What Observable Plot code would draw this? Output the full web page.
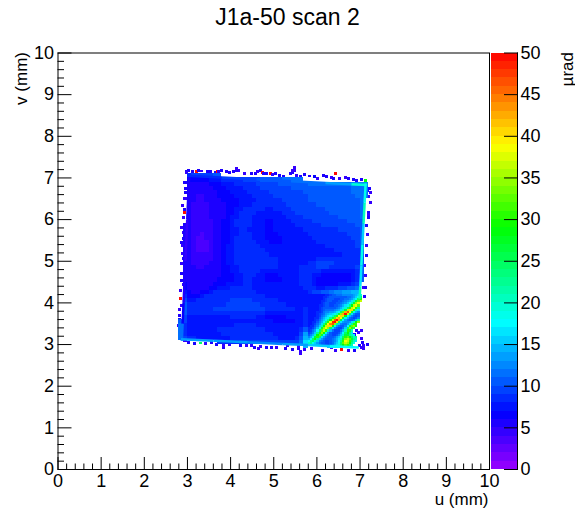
<!DOCTYPE html>
<html><head><meta charset="utf-8">
<script src="https://cdn.jsdelivr.net/npm/d3@7"></script>
<script src="https://cdn.jsdelivr.net/npm/@observablehq/plot@0.6"></script>
<style>
html,body{margin:0;padding:0;background:#fff}
#wrap{position:relative;width:575px;height:522px;overflow:hidden;font-family:"Liberation Sans",sans-serif}
#wrap svg{position:absolute;top:0}
#title{position:absolute;left:0;width:575px;top:1px;text-align:center;font-size:23px;line-height:32px;color:#000;z-index:2}
</style></head><body>
<div id="wrap"><div id="title">J1a-50 scan 2</div></div>
<script>
const _ = null;
const xLabel = "u (mm)", yLabel = "v (mm)", zLabel = "µrad";
const axisTicks = [0,1,2,3,4,5,6,7,8,9,10];
const zTicks = [0,5,10,15,20,25,30,35,40,45,50];
const paletteStops = ["#9a00ff","#0000ff","#00ffff","#00ff00","#ffff00","#ff0000"];
const paletteAt = [0,6.7,17.6,29,38.8,50];
// outline of the scanned square (u, v)
const outlineU = [3.0,7.17,6.97,2.83];
const outlineV = [7.09,6.87,2.89,3.09];
const uStart = 2.8, vTop = 7.2, cell = 0.1;
// scan map: rows from the top, 0.1 mm cells
const scanRows = [
[],
[_,_,8,9,9,9,9,9,10,10,10,10,11,11,12],
[_,_,6,6,6,6,6,7,7,7,8,8,8,8,8,9,9,9,9,10,10,10,10,10,11,11,11,11,11,11],
[_,_,5,5,5,5,5,6,6,6,7,7,7,8,8,8,8,8,9,9,9,9,9,10,10,10,10,10,10,10,11,11,11,11,11,11,11,11,11,11,12,12,12,12],
[_,_,5,5,5,5,5,5,6,6,6,7,7,7,7,8,8,8,8,9,9,9,9,9,9,9,10,10,10,10,10,10,10,10,10,10,10,10,10,10,11,11,11,11],
[_,_,5,5,5,5,5,5,5,6,6,6,7,7,7,7,8,8,8,8,8,9,9,9,9,9,9,9,9,10,10,10,10,10,10,10,10,10,10,10,11,11,11,11],
[_,_,5,5,4,4,5,5,5,6,6,6,6,7,7,7,7,8,8,8,8,8,9,9,9,9,9,9,9,9,10,10,10,10,10,10,10,10,10,10,10,11,11,11],
[_,_,5,5,4,4,5,5,5,5,6,6,6,6,7,7,7,7,8,8,8,8,8,8,9,9,9,9,9,9,10,10,10,10,10,10,10,10,10,10,10,10,11,11],
[_,_,5,4,4,4,4,5,5,5,5,6,6,6,7,7,7,8,8,8,8,8,8,8,8,9,9,9,9,9,9,9,10,10,10,10,10,10,10,10,10,10,11,11],
[_,_,5,4,4,4,4,5,5,5,5,6,6,7,7,8,8,8,8,8,7,7,8,8,8,8,9,9,9,9,9,9,9,9,10,10,10,10,10,10,10,10,11,11],
[_,_,5,4,4,4,4,5,5,5,5,6,6,7,8,8,8,8,7,7,7,7,7,7,8,8,8,9,9,9,9,9,9,9,9,10,10,10,10,10,10,10,11,11],
[_,_,5,4,4,4,4,5,5,5,5,6,7,7,8,8,8,7,7,7,7,7,7,7,7,8,8,8,8,9,9,9,9,9,9,9,9,10,10,10,10,10,11,11],
[_,_,5,4,4,4,4,4,5,5,6,6,7,8,8,8,8,7,7,7,6,6,7,7,7,7,8,8,8,8,8,9,9,9,9,9,9,9,9,10,10,10,10,11],
[_,5,5,4,4,4,4,4,5,5,6,6,7,8,8,8,8,7,7,7,6,6,7,7,7,7,7,8,8,8,8,8,8,9,9,9,9,9,9,9,9,10,10,11],
[_,5,5,4,4,4,4,4,5,5,6,6,7,7,8,8,7,7,7,7,6,6,7,7,7,7,7,7,7,8,8,8,8,8,8,8,8,9,9,9,9,9,10],
[_,5,5,4,4,3,4,4,5,5,6,6,7,7,8,8,8,7,7,7,6,6,6,7,7,7,7,7,7,7,8,8,8,8,8,8,8,8,8,9,9,9,10],
[_,5,5,4,3,3,4,4,5,5,6,6,7,8,8,8,8,7,7,7,6,6,6,6,7,7,7,7,7,7,7,8,8,8,8,8,8,8,8,8,9,9,10],
[_,5,5,4,3,3,3,4,5,5,6,6,7,8,8,8,8,8,7,7,7,6,6,6,7,7,7,7,7,7,7,7,8,8,8,8,8,8,8,8,8,9,10],
[_,5,5,4,3,3,3,4,5,5,6,7,7,8,8,8,8,8,8,7,7,7,7,7,7,7,7,7,7,7,7,7,7,7,8,8,8,8,8,8,8,9,10],
[_,5,5,4,3,3,3,4,5,5,6,7,7,8,8,8,8,8,8,8,7,7,7,7,7,7,7,7,7,7,7,7,7,7,7,7,8,8,8,8,8,8,10],
[_,5,5,4,4,4,4,4,5,5,6,7,7,8,8,8,8,8,8,8,8,7,7,7,7,7,7,7,7,7,7,7,7,7,7,7,7,7,8,8,8,8,10],
[_,5,5,4,4,4,4,4,5,5,6,7,7,8,8,8,8,8,8,8,8,8,8,7,7,7,7,7,7,7,7,7,8,8,8,8,8,8,8,8,8,8,10],
[_,5,5,4,4,4,4,5,5,5,6,7,7,8,8,8,8,8,8,8,8,8,8,7,7,7,7,7,7,7,8,8,9,9,9,9,8,8,8,8,8,8,10],
[_,5,5,5,4,4,5,5,5,5,6,6,7,7,8,8,8,8,8,8,8,8,8,7,7,7,7,7,8,8,8,8,9,9,9,8,8,8,8,8,8,9,10],
[_,5,5,5,5,5,5,5,5,5,6,6,7,7,8,8,8,8,8,7,7,7,7,7,7,7,7,7,8,8,8,8,8,7,7,7,7,7,7,7,7,8,10],
[_,5,5,5,5,5,5,5,5,5,6,6,6,7,7,8,8,8,7,7,6,6,6,7,7,7,7,7,8,8,8,7,7,6,6,6,6,6,6,6,7,8,10],
[_,5,5,5,5,5,5,5,5,6,6,6,6,7,7,8,8,7,7,7,6,6,6,6,7,7,7,7,8,8,8,7,6,6,6,6,6,6,6,6,7,8,10],
[_,6,5,5,5,5,5,5,6,6,6,7,7,7,7,8,8,7,7,7,7,7,7,7,7,7,7,7,8,8,8,7,6,6,6,6,6,7,7,7,8,9,12],
[_,6,5,5,5,5,5,6,6,7,7,7,8,8,8,8,8,7,7,7,7,7,7,7,7,7,7,7,7,8,8,8,7,7,8,8,8,9,9,10,10,11],
[_,7,6,5,5,6,6,7,8,8,8,8,8,8,8,8,8,8,7,7,7,7,7,7,7,7,7,7,7,7,8,9,9,10,10,11,12,12,13,13,14,14],
[_,8,6,6,6,7,8,8,8,8,8,8,8,8,8,8,8,8,8,8,7,7,7,7,7,7,7,7,7,7,7],
[_,9,7,7,8,8,8,8,8,8,8,8,9,9,9,9,9,8,8,8,8,8,8,7,7,7,7,7,7,7,7],
[9,10,8,8,8,8,8,8,8,8,8,9,9,9,9,9,9,9,9,8,8,8,8,8,8,7,7,7,7,7,8],
[9,10,8,8,8,8,8,8,9,9,9,9,9,9,9,9,9,9,9,9,8,8,8,8,8,8,8,7,7,8,8],
[9,10,8,8,8,8,8,8,8,8,8,8,8,8,8,8,8,8,8,8,7,7,7,7,7,7,7,7,7,8,8],
[9,9,7,7,7,7,7,7,7,7,7,7,8,8,8,8,8,8,7,7,6,6,6,6,6,7,7,7,7,8,9],
[10,9,7,7,7,7,7,7,7,7,7,7,7,7,7,7,7,7,7,7,7,7,6,6,6,6,6,7,7,8,9],
[11,8,7,7,7,7,7,7,7,7,7,7,7,8,8,8,8,8,7,7,7,7,7,7,7,7,7,7,7,8,11],
[11,8,7,7,7,7,7,7,7,8,8,8,8,8,8,8,8,8,8,8,7,7,7,7,7,7,7,7,8,10,14],
[11,8,7,7,7,7,7,7,7,7,8,8,8,8,8,8,8,8,8,8,8,8,7,7,7,7,7,7,9,13,16],
[11,9,8,8,7,7,7,7,7,7,7,7,8,8,8,8,8,8,8,8,8,8,8,7,7,7,7,8,10,14,16],
[11,9,8,8,8,8,8,8,8,8,8,8,8,8,9,9,9,9,9,9,9,9,9,9,9,9,9,9,11,16,16],
[_,_,_,_,_,_,_,_,_,_,9,9,9,9,9,9,9,9,9,9,9,9,9,10,10,10,10,10,11,14,14]
];
// bottom-right corner with the ridge, 0.05 mm cells, rows from v = 4.2 down
const ridgeU = 5.8, ridgeV = 4.2, ridgeCell = 0.05;
const ridgeRows = [
[7,7,7,7,7,7,7,7,8,8,9,10,10,11,11,11,12,12,12,12,12,13,14,15,18,22],
[7,7,7,7,7,7,7,8,8,9,10,10,10,10,10,10,10,10,11,11,12,13,15,18,24,28],
[7,7,7,7,7,7,7,8,9,10,10,10,9,9,9,10,10,11,11,12,13,15,18,24,30,30],
[7,7,7,7,7,7,8,8,9,10,10,9,9,9,10,10,11,12,13,14,16,20,26,32,36,24],
[7,7,7,7,7,7,8,9,10,10,9,9,9,10,10,11,12,13,15,17,20,26,34,38,30,20],
[7,7,7,7,7,8,8,9,10,10,9,9,10,10,11,12,14,16,18,22,28,36,38,32,22,16],
[7,7,7,7,7,8,9,10,10,10,10,10,10,11,12,14,16,19,24,30,36,38,30,22,16,13],
[7,7,7,7,7,8,9,10,11,11,11,11,12,13,14,16,20,26,36,40,40,30,20,16,13,11],
[7,7,7,7,8,8,9,11,12,12,13,13,14,16,18,24,32,42,46,38,26,18,14,12,11,14],
[7,7,7,7,8,9,10,11,13,14,15,16,18,20,26,34,42,50,36,24,16,12,10,10,12,18],
[7,7,7,7,8,9,11,12,14,16,17,20,24,30,38,40,40,28,18,14,12,10,9,10,14,24],
[7,7,7,8,8,10,12,14,16,18,22,26,32,40,42,38,26,18,14,11,10,9,10,12,18,30],
[7,7,7,8,9,11,13,15,18,22,28,36,46,50,42,26,17,13,11,10,10,11,14,22,30,_],
[7,7,8,8,10,12,14,17,22,30,38,48,50,40,24,16,13,12,12,13,16,20,28,34,_,_],
[7,7,8,9,11,13,16,22,30,38,44,46,34,22,15,12,11,11,13,16,22,30,30,_,_,_],
[7,8,8,10,12,15,20,28,36,40,40,28,18,13,11,10,10,12,17,26,32,34,28,_,_,_],
[8,8,9,11,14,18,26,34,38,34,24,16,12,10,9,9,11,15,24,34,30,24,_,_,_,_],
[8,9,11,13,17,24,32,36,30,20,14,11,9,9,9,11,14,20,30,26,20,_,_,_,_,_],
[9,10,12,15,22,30,34,28,18,13,10,9,9,9,10,13,17,24,28,22,16,_,_,_,_,_],
[10,12,14,20,28,32,26,17,13,11,10,9,9,10,12,15,20,26,26,22,20,18,_,_,_,_],
[12,14,18,26,30,24,16,13,11,10,10,10,11,13,15,18,24,30,32,28,24,20,22,_,_,_],
[14,17,24,28,22,15,13,11,10,10,10,11,12,14,16,20,26,34,36,32,26,22,20,_,_,_],
[17,22,24,20,15,12,11,10,9,9,10,11,12,14,17,22,30,38,36,30,24,20,16,_,_,_],
[20,22,18,15,13,11,10,10,9,9,10,11,13,15,18,24,32,36,34,28,22,18,_,_,_,_],
[20,17,15,13,12,11,10,10,10,10,11,12,14,16,19,24,28,32,30,24,20,_,_,_,_,_],
[15,15,15,15,14,14,14,14,14,14,15,15,15,16,18,20,24,26,26,22,18,_,_,_,_,_]
];
// thin bright rims along the four sides: polylines with one value per stretch
const rimTopU = [3.0,3.8,4.6,5.4,6.2,6.8,7.15];
const rimTopV = [7.05,7.008,6.966,6.923,6.881,6.849,6.83];
const rimTopZ = [8,9,10,11,13,19];
const rimLeftU = [3.04,2.995,2.953,2.91,2.888,2.87];
const rimLeftV = [7.05,6.0,5.0,4.0,3.5,3.09];
const rimLeftZ = [5,4,5,6,11];
const rimBottomU = [2.85,3.6,4.4,5.2,5.8,6.3,6.97];
const rimBottomV = [3.129,3.093,3.054,3.015,2.987,2.962,2.93];
const rimBottomZ = [13,13,12,13,15,17];
const rimRightU = [7.13,7.106,7.081,7.056,7.031,7.006,6.99];
const rimRightV = [6.87,6.4,5.9,5.4,4.9,4.4,4.1];
const rimRightZ = [18,20,15,18,16,20];
// scattered edge pixels
const edgeU = [3.00,2.96,3.19,3.24,3.43,3.62,3.67,3.77,3.89,4.12,4.17,4.12,4.47,4.66,4.71,4.74,4.89,5.01,5.36,5.41,5.41,5.46,5.46,5.70,5.93,6.13,6.40,6.32,6.63,6.82,7.01,
 2.96,2.92,2.94,2.87,2.91,2.85,2.90,2.89,2.86,2.89,2.85,2.81,2.85,2.79,2.84,2.81,2.86,2.89,3.00,
 2.92,3.27,3.54,3.81,3.81,4.47,4.52,4.62,4.67,4.93,5.24,5.29,5.59,5.59,5.54,5.55,5.86,6.55,6.32,7.01,6.96,6.90,6.95,6.85,6.80,
 7.21,7.16,7.21,7.17,7.17,7.13,7.13,7.09,7.05,7.10,7.05,7.14,
 3.1,3.3,3.5,3.7,3.95,4.05,4.3,4.55,4.6,4.8,4.95,5.1,5.2,5.5,5.6,5.8,6.0,6.2,6.35,6.5,6.7,6.9,7.1,
 2.99,2.93,2.92,2.9,2.88,2.88,2.85,2.86,2.84,2.83,2.82,2.80,2.8,2.78,
 3.0,3.15,3.4,3.65,3.95,4.2,4.35,4.8,5.05,5.4,5.7,6.1,6.4,6.7,6.85,7.05,
 7.2,7.18,7.17,7.15,7.12,7.1,7.07,7.0,7.0,7.04];
const edgeV = [7.13,7.11,7.11,7.13,7.11,7.09,7.11,7.13,7.11,7.17,7.13,7.12,7.05,7.13,7.09,7.07,7.07,7.07,7.05,7.09,7.13,7.13,7.21,7.03,6.99,7.01,7.05,6.97,6.97,6.91,6.91,
 7.09,6.85,6.61,6.29,6.13,5.77,5.81,5.49,5.33,5.01,4.65,4.05,3.89,3.65,3.21,3.19,3.24,4.40,3.35,
 3.05,2.99,3.01,2.89,2.94,2.92,2.89,2.85,2.90,2.89,2.85,2.92,2.73,2.79,2.85,2.90,2.85,2.83,2.89,2.89,2.92,3.29,3.24,3.20,3.15,
 6.61,6.66,6.37,6.13,6.08,5.81,5.33,4.85,4.33,4.33,2.93,2.96,
 7.11,7.12,7.1,7.1,7.09,7.1,7.05,7.06,7.1,7.05,7.03,7.02,7.0,7.02,6.99,7.0,6.95,6.98,6.95,6.94,6.94,6.9,6.9,
 6.9,6.7,6.45,6.2,6.0,5.65,5.4,5.15,4.9,4.5,4.25,3.8,3.55,3.4,
 3.0,2.98,2.98,2.96,2.96,2.93,2.92,2.88,2.88,2.84,2.84,2.82,2.8,2.8,2.82,2.85,
 6.7,6.5,6.0,5.6,5.1,4.6,4.1,3.3,3.1,3.0];
const edgeZ = [5,5,50,5,5,5,50,5,5,4,4,5,5,5,50,5,50,5,5,5,4,4,4,5,6,5,50,4,4,5,5,
 4,5,5,4,50,4,5,5,4,5,5,50,4,5,50,4,5,4,5,
 4,24,5,5,4,4,5,4,4,5,5,4,4,4,5,4,4,50,4,4,5,5,4,5,28,
 4,5,4,5,4,5,4,4,4,5,4,5,
 5,4,5,4,5,5,4,5,4,5,4,5,5,4,5,5,4,5,5,4,5,5,28,
 4,5,4,5,4,4,5,4,4,5,4,4,5,4,
 5,5,4,5,4,5,4,5,4,5,4,5,4,4,5,4,
 5,4,5,4,5,4,5,4,4,5];

const outline = outlineU.map((u, i) => [u, outlineV[i]]);
const inOutline = (u, v) => d3.polygonContains(outline, [u, v]);
const scanCells = scanRows.flatMap((row, j) => row.flatMap((z, i) => {
  const x1 = uStart + i * cell, y2 = vTop - j * cell;
  if (z === null || !inOutline(x1 + cell / 2, y2 - cell / 2)) return [];
  if (x1 >= ridgeU - 1e-6 && y2 <= ridgeV + 1e-6) return [];
  return [{x1, x2: x1 + cell, y1: y2 - cell, y2, z}];
}));
const ridgeCells = ridgeRows.flatMap((row, j) => row.flatMap((z, i) => {
  const x1 = ridgeU + i * ridgeCell, y2 = ridgeV - j * ridgeCell;
  if (z === null || !inOutline(x1 + ridgeCell / 2, y2 - ridgeCell / 2)) return [];
  return [{x1, x2: x1 + ridgeCell, y1: y2 - ridgeCell, y2, z}];
}));
const edgeCells = edgeU.map((u, i) => ({x1: u, x2: u + 0.07, y1: edgeV[i], y2: edgeV[i] + 0.07, z: edgeZ[i]}));
const rim = (U, V, Z) => Z.map((z, i) => ({x1: U[i], y1: V[i], x2: U[i + 1], y2: V[i + 1], z}));
const rims = [
  ...rim(rimLeftU, rimLeftV, rimLeftZ), ...rim(rimTopU, rimTopV, rimTopZ),
  ...rim(rimBottomU, rimBottomV, rimBottomZ), ...rim(rimRightU, rimRightV, rimRightZ)
];
const levels = d3.range(0, 50);
const ramp = d3.scaleLinear().domain(paletteAt).range(paletteStops);
const palette = levels.map(d => ramp(d + 0.5));
const colorScale = {type: "threshold", domain: levels.slice(1), range: palette};
const font = {fontFamily: "Liberation Sans", fontSize: 18};
const minor = d3.range(0, 10.001, 0.2).filter(d => Math.abs(d - Math.round(d)) > 0.01);
const rectOpts = {x1: "x1", x2: "x2", y1: "y1", y2: "y2", fill: "z", shapeRendering: "crispEdges"};

const main = Plot.plot({
  width: 575, height: 522,
  marginLeft: 57.5, marginRight: 86, marginTop: 52.5, marginBottom: 53,
  style: {...font, background: "transparent", color: "#000", overflow: "visible"},
  x: {domain: [0, 10]}, y: {domain: [0, 10]}, color: colorScale,
  marks: [
    Plot.rect(edgeCells, rectOpts),
    Plot.rect(scanCells, rectOpts),
    Plot.rect(ridgeCells, rectOpts),
    Plot.link(rims, {x1: "x1", y1: "y1", x2: "x2", y2: "y2", stroke: "z", strokeWidth: 2.5}),
    Plot.frame({stroke: "#000", strokeWidth: 1}),
    Plot.axisX({ticks: axisTicks, tickFormat: d => d, tickSize: -12, tickPadding: 17, label: null, stroke: "#000"}),
    Plot.axisY({ticks: axisTicks, tickFormat: d => d, tickSize: -14, tickPadding: 18, label: null, stroke: "#000"}),
    Plot.tickX(minor, {x: d => d, insetTop: 411, stroke: "#000"}),
    Plot.tickY(minor, {y: d => d, insetRight: 425, stroke: "#000"}),
    Plot.text([xLabel], {frameAnchor: "bottom-right", textAnchor: "end", lineAnchor: "bottom", dx: -1, dy: 35, fontSize: 17, fill: "#000"}),
    Plot.text([yLabel], {frameAnchor: "top-left", rotate: -90, textAnchor: "end", lineAnchor: "bottom", dx: -31, dy: -1, fontSize: 17, fill: "#000"})
  ]
});
main.style.left = "0px";
const bar = Plot.plot({
  width: 84, height: 522,
  marginLeft: 0, marginRight: 58, marginTop: 52.5, marginBottom: 53,
  style: {...font, background: "transparent", color: "#000", overflow: "visible"},
  x: {domain: [0, 1], axis: null}, y: {domain: [0, 50], axis: null}, color: colorScale,
  marks: [
    Plot.rect(levels, {x1: 0, x2: 1, y1: d => d, y2: d => d + 1, fill: d => d + 0.5, shapeRendering: "crispEdges"}),
    Plot.axisY({anchor: "right", ticks: zTicks, tickFormat: d => d, tickSize: -14, tickPadding: 17, label: null, stroke: "#000"}),
    Plot.ruleX([1], {stroke: "#000"}),
    Plot.text([zLabel], {frameAnchor: "top-right", rotate: -90, textAnchor: "end", lineAnchor: "bottom", dx: 55, dy: -1, fill: "#000", fontSize: 17})
  ]
});
bar.style.left = "491px";
document.getElementById("wrap").append(main, bar);
</script>
</body></html>
